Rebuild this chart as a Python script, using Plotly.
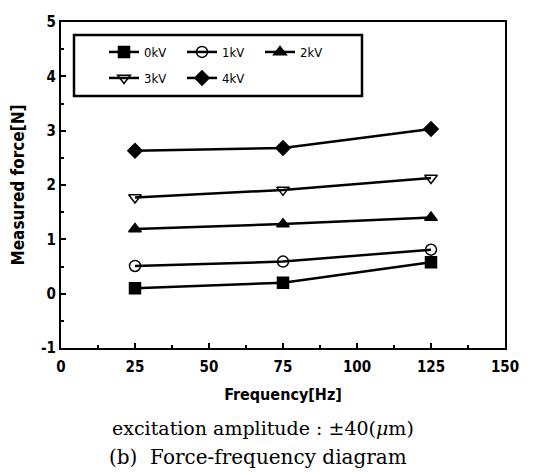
import plotly.graph_objects as go

freq = [25, 75, 125]
series_names = ["0kV", "1kV", "2kV", "3kV", "4kV"]
force_0kV = [0.10, 0.20, 0.58]
force_1kV = [0.51, 0.59, 0.81]
force_2kV = [1.19, 1.28, 1.40]
force_3kV = [1.77, 1.91, 2.13]
force_4kV = [2.63, 2.68, 3.03]
x_ticks = [0, 25, 50, 75, 100, 125, 150]
y_ticks = [-1, 0, 1, 2, 3, 4, 5]

values = [force_0kV, force_1kV, force_2kV, force_3kV, force_4kV]
symbols = ["square", "circle-open", "triangle-up", "triangle-down-open", "diamond"]
legends = ["legend", "legend", "legend", "legend2", "legend2"]

NARROW = "DejaVu Sans Condensed, Liberation Sans Narrow, Arial Narrow, Liberation Sans, sans-serif"
AX_FONT = dict(family=NARROW, size=15, color="black", weight="bold")

fig = go.Figure()
for name, vals, sym, lg in zip(series_names, values, symbols, legends):
    fig.add_trace(go.Scatter(
        x=freq, y=vals, name=name, mode="lines+markers",
        line=dict(color="black", width=2.5),
        marker=dict(symbol=sym, size=11, color="black",
                    line=dict(color="black", width=1.5)),
        legend=lg,
    ))

L, R, T, B = 61, 37, 22, 127
W, H = 542, 475
pw = W - L - R
ph = H - T - B

def px_x(p):
    return (p - L) / pw

def px_y(p):
    return (H - B - p) / ph

leg_font = dict(family=NARROW, size=13, color="black")
common_leg = dict(orientation="h", xanchor="left", yanchor="middle",
                  bgcolor="rgba(0,0,0,0)", borderwidth=0, font=leg_font,
                  entrywidth=33, entrywidthmode="pixels", itemwidth=30,
                  tracegroupgap=0)

fig.update_layout(
    width=W, height=H,
    margin=dict(l=L, r=R, t=T, b=B),
    paper_bgcolor="white", plot_bgcolor="white",
    legend=dict(x=px_x(104), y=px_y(52), **common_leg),
    legend2=dict(x=px_x(104), y=px_y(78), **common_leg),
    xaxis=dict(range=[0, 150], tickvals=x_ticks, ticktext=[str(v) for v in x_ticks],
               ticks="inside", ticklen=5, tickwidth=1.5, tickcolor="black",
               showline=True, linecolor="black", linewidth=2, mirror=True,
               showgrid=False, zeroline=False, tickfont=AX_FONT, ticklabelstandoff=4,
               minor=dict(ticks="inside", ticklen=3, tickcolor="black", dtick=12.5),
               title=dict(text="Frequency[Hz]", font=dict(AX_FONT, size=16), standoff=14)),
    yaxis=dict(range=[-1, 5], tickvals=y_ticks, ticktext=[str(v) for v in y_ticks],
               ticks="inside", ticklen=5, tickwidth=1.5, tickcolor="black",
               showline=True, linecolor="black", linewidth=2, mirror=True,
               showgrid=False, zeroline=False, tickfont=AX_FONT,
               minor=dict(ticks="inside", ticklen=3, tickcolor="black", dtick=0.5),
               title=dict(text="Measured force[N]", font=dict(AX_FONT, size=17), standoff=12)),
    shapes=[dict(type="rect", xref="paper", yref="paper",
                 x0=px_x(74), x1=px_x(362), y0=px_y(96), y1=px_y(35),
                 line=dict(color="black", width=2.5))],
    annotations=[
        dict(text="excitation amplitude : \u00b140(<i>\u03bc</i>m)", xref="paper", yref="paper",
             x=px_x(263), y=px_y(428), showarrow=False, xanchor="center", yanchor="middle",
             font=dict(family="DejaVu Serif, Liberation Serif, serif", size=19, color="black")),
        dict(text="(b)  Force-frequency diagram", xref="paper", yref="paper",
             x=px_x(258), y=px_y(457), showarrow=False, xanchor="center", yanchor="middle",
             font=dict(family="DejaVu Serif, Liberation Serif, serif", size=20, color="black")),
    ],
)

fig.write_html("out.html")
